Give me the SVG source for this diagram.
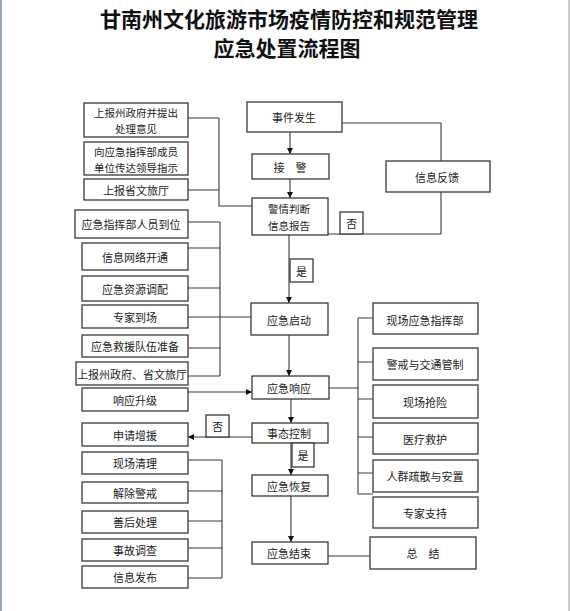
<svg xmlns="http://www.w3.org/2000/svg" width="571" height="611" viewBox="0 0 571 611">
<style>
  .bx { fill: #ffffff; stroke: #3a3a3a; stroke-width: 1.3; }
  .t { font-family: "Noto Sans CJK SC", "Liberation Sans", sans-serif; font-size: 11px; fill: #222; text-anchor: middle; dominant-baseline: central; }
  .t2 { font-size: 10.5px; }
  .title { font-family: "Noto Sans CJK SC", "Liberation Sans", sans-serif; font-size: 21px; font-weight: bold; fill: #111; text-anchor: middle; dominant-baseline: central; }
  .ln { fill: none; stroke: #3a3a3a; stroke-width: 1.1; }
  .ar { fill: none; stroke: #3a3a3a; stroke-width: 1.1; marker-end: url(#ah); }
</style>
<defs>
  <marker id="ah" viewBox="0 0 10 10" refX="10" refY="5" markerWidth="6" markerHeight="6" markerUnits="userSpaceOnUse" orient="auto">
    <path d="M0,0 L10,5 L0,10 z" fill="#111"/>
  </marker>
</defs>
<rect x="0" y="0" width="571" height="611" fill="#ffffff"/>
<line x1="1" y1="0" x2="1" y2="611" stroke="#9aa6bb" stroke-width="2"/>
<line x1="569" y1="0" x2="569" y2="611" stroke="#b8bcc4" stroke-width="1.5"/>

<g id="title">
  <text class="title" x="289" y="18">甘南州文化旅游市场疫情防控和规范管理</text>
  <text class="title" x="287" y="47">应急处置流程图</text>
</g>

<g id="connectors">
  <path class="ar" d="M290,132 V154"/>
  <path class="ar" d="M290,179 V198"/>
  <path class="ln" d="M342,123 H441 V161"/>
  <path class="ln" d="M441,192 V234 H328"/>
  <path class="ln" d="M188,118 H219 M188,190 H219 M219,118 V206 H252"/>
  <path class="ar" d="M289,235 V303"/>
  <path class="ln" d="M188,222 H220 M188,248 H220 M188,288 H220 M188,317 H220 M188,348 H220 M188,376 H220 M220,222 V376 M220,317 H251"/>
  <path class="ar" d="M289,335 V376"/>
  <path class="ln" d="M329,388 H358 M358,318 V494 M358,318 H373 M358,362 H373 M358,399 H373 M358,437 H373 M358,473 H373 M358,494 H373"/>
  <path class="ar" d="M188,392 H252"/>
  <path class="ar" d="M291,399 V423"/>
  <path class="ar" d="M252,437 H188"/>
  <path class="ar" d="M291,443 V475"/>
  <path class="ln" d="M188,460 H222 M188,491 H222 M188,521 H222 M188,548 H222 M188,578 H222 M222,460 V578"/>
  <path class="ar" d="M291,496 V542"/>
  <path class="ln" d="M328,556 H370"/>
</g>

<g id="n1"><rect class="bx" x="84" y="103" width="104" height="34"/><text class="t t2" x="136" y="112">上报州政府并提出</text><text class="t t2" x="136" y="128">处理意见</text></g>
<g id="n2"><rect class="bx" x="84" y="142" width="104" height="33"/><text class="t t2" x="136" y="151">向应急指挥部成员</text><text class="t t2" x="136" y="167">单位传达领导指示</text></g>
<g id="n3"><rect class="bx" x="84" y="179" width="104" height="21"/><text class="t" x="136" y="190">上报省文旅厅</text></g>
<g id="n4"><rect class="bx" x="247" y="102" width="95" height="30"/><text class="t" x="294" y="117">事件发生</text></g>
<g id="n5"><rect class="bx" x="252" y="154" width="77" height="25"/><text class="t" x="290" y="167">接　警</text></g>
<g id="n6"><rect class="bx" x="252" y="198" width="76" height="37"/><text class="t t2" x="289" y="208">警情判断</text><text class="t t2" x="289" y="225">信息报告</text></g>
<g id="n7"><rect class="bx" x="386" y="161" width="104" height="31"/><text class="t" x="437" y="177">信息反馈</text></g>
<g id="no1"><rect class="bx" x="340" y="212" width="23" height="22"/><text class="t" x="351.5" y="223">否</text></g>
<g id="n8"><rect class="bx" x="75" y="210" width="113" height="28"/><text class="t" x="131" y="224">应急指挥部人员到位</text></g>
<g id="n9"><rect class="bx" x="82" y="243" width="106" height="27"/><text class="t" x="135" y="257">信息网络开通</text></g>
<g id="n10"><rect class="bx" x="82" y="276" width="106" height="25"/><text class="t" x="135" y="289">应急资源调配</text></g>
<g id="n11"><rect class="bx" x="82" y="305" width="106" height="23"/><text class="t" x="135" y="317">专家到场</text></g>
<g id="n12"><rect class="bx" x="82" y="335" width="106" height="22"/><text class="t" x="135" y="346">应急救援队伍准备</text></g>
<g id="n13"><rect class="bx" x="76" y="362" width="112" height="23"/><text class="t" x="132" y="374">上报州政府、省文旅厅</text></g>
<g id="yes1"><rect class="bx" x="290" y="259" width="23" height="23"/><text class="t" x="301.5" y="270.5">是</text></g>
<g id="n14"><rect class="bx" x="251" y="303" width="77" height="32"/><text class="t" x="289" y="320">应急启动</text></g>
<g id="n15"><rect class="bx" x="373" y="303" width="105" height="31"/><text class="t" x="425" y="320">现场应急指挥部</text></g>
<g id="n16"><rect class="bx" x="373" y="348" width="105" height="32"/><text class="t" x="425" y="364">警戒与交通管制</text></g>
<g id="n17"><rect class="bx" x="373" y="385" width="105" height="33"/><text class="t" x="425" y="402">现场抢险</text></g>
<g id="n18"><rect class="bx" x="373" y="423" width="105" height="31"/><text class="t" x="425" y="439">医疗救护</text></g>
<g id="n19"><rect class="bx" x="373" y="460" width="105" height="32"/><text class="t" x="425" y="476">人群疏散与安置</text></g>
<g id="n20"><rect class="bx" x="373" y="497" width="105" height="31"/><text class="t" x="425" y="513">专家支持</text></g>
<g id="n21"><rect class="bx" x="252" y="376" width="77" height="23"/><text class="t" x="289" y="387.5">应急响应</text></g>
<g id="n22"><rect class="bx" x="82" y="388" width="106" height="23"/><text class="t" x="135" y="399.5">响应升级</text></g>
<g id="n23"><rect class="bx" x="252" y="423" width="76" height="20"/><text class="t" x="289" y="433">事态控制</text></g>
<g id="no2"><rect class="bx" x="206" y="415" width="23" height="22"/><text class="t" x="217.5" y="426">否</text></g>
<g id="n24"><rect class="bx" x="82" y="423" width="106" height="23"/><text class="t" x="135" y="434.5">申请增援</text></g>
<g id="yes2"><rect class="bx" x="292" y="443" width="22" height="24"/><text class="t" x="303" y="455">是</text></g>
<g id="n25"><rect class="bx" x="252" y="475" width="76" height="21"/><text class="t" x="289" y="485.5">应急恢复</text></g>
<g id="n26"><rect class="bx" x="82" y="452" width="106" height="22"/><text class="t" x="135" y="463">现场清理</text></g>
<g id="n27"><rect class="bx" x="82" y="482" width="106" height="21"/><text class="t" x="135" y="492.5">解除警戒</text></g>
<g id="n28"><rect class="bx" x="82" y="511" width="106" height="22"/><text class="t" x="135" y="522">善后处理</text></g>
<g id="n29"><rect class="bx" x="82" y="539" width="106" height="22"/><text class="t" x="135" y="550">事故调查</text></g>
<g id="n30"><rect class="bx" x="82" y="566" width="106" height="22"/><text class="t" x="135" y="577">信息发布</text></g>
<g id="n31"><rect class="bx" x="252" y="542" width="76" height="22"/><text class="t" x="289" y="553">应急结束</text></g>
<g id="n32"><rect class="bx" x="370" y="537" width="106" height="32"/><text class="t" x="423" y="553">总　结</text></g>
</svg>
